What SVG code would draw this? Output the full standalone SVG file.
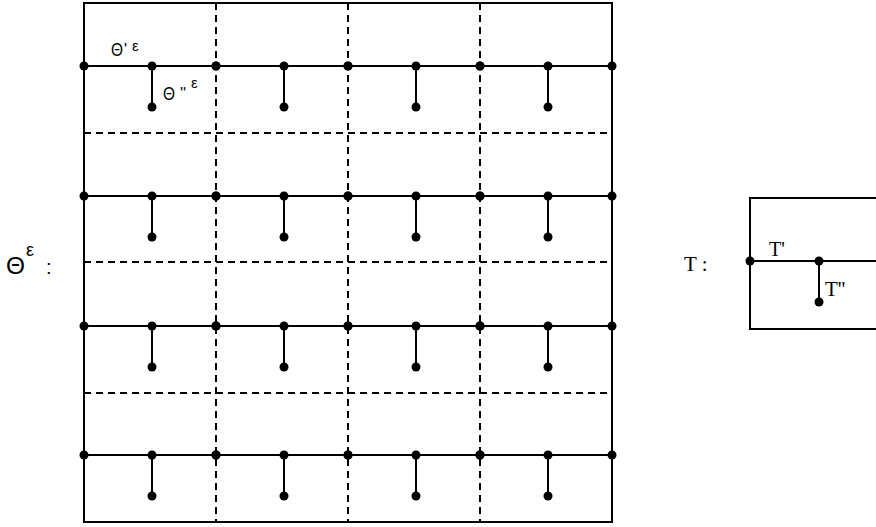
<svg xmlns="http://www.w3.org/2000/svg" xmlns:xlink="http://www.w3.org/1999/xlink" width="876" height="527" viewBox="0 0 876 527">
<style>
.solid{stroke:#000;stroke-width:2;fill:none}
.dash{stroke:#000;stroke-width:2;fill:none;stroke-dasharray:7 5}
.dot{fill:#000}
.sans{font-family:"Liberation Sans",Arial,sans-serif;fill:#000}
.serif{font-family:"Liberation Serif","Times New Roman",serif;fill:#000}
</style>
<defs>
<g id="cell">
<line class="solid" x1="0" y1="0" x2="132" y2="0"/>
<line class="solid" x1="68" y1="0" x2="68" y2="41"/>
<circle class="dot" cx="0" cy="0" r="4.5"/>
<circle class="dot" cx="68" cy="0" r="4.5"/>
<circle class="dot" cx="68" cy="41" r="4.5"/>
<circle class="dot" cx="132" cy="0" r="4.5"/>
</g>
</defs>
<rect width="876" height="527" fill="#fff"/>
<g id="frame">
<rect class="solid" x="84" y="3" width="528" height="519"/>
</g>
<g id="connectors">
<line class="dash" x1="216" y1="3" x2="216" y2="522"/>
<line class="dash" x1="348" y1="3" x2="348" y2="522"/>
<line class="dash" x1="480" y1="3" x2="480" y2="522"/>
<line class="dash" x1="84" y1="133" x2="612" y2="133"/>
<line class="dash" x1="84" y1="262" x2="612" y2="262"/>
<line class="dash" x1="84" y1="393" x2="612" y2="393"/>
</g>
<g id="row1">
<use xlink:href="#cell" x="84" y="66"/><use xlink:href="#cell" x="216" y="66"/><use xlink:href="#cell" x="348" y="66"/><use xlink:href="#cell" x="480" y="66"/>
</g>
<g id="row2">
<use xlink:href="#cell" x="84" y="196"/><use xlink:href="#cell" x="216" y="196"/><use xlink:href="#cell" x="348" y="196"/><use xlink:href="#cell" x="480" y="196"/>
</g>
<g id="row3">
<use xlink:href="#cell" x="84" y="326"/><use xlink:href="#cell" x="216" y="326"/><use xlink:href="#cell" x="348" y="326"/><use xlink:href="#cell" x="480" y="326"/>
</g>
<g id="row4">
<use xlink:href="#cell" x="84" y="455"/><use xlink:href="#cell" x="216" y="455"/><use xlink:href="#cell" x="348" y="455"/><use xlink:href="#cell" x="480" y="455"/>
</g>
<g id="labels-theta">
<text class="sans" x="111" y="56" font-size="18" textLength="12" lengthAdjust="spacingAndGlyphs">Θ</text>
<text class="sans" x="124" y="55" font-size="16">'</text>
<text class="sans" x="132" y="51" font-size="15">ε</text>
<text class="sans" x="163" y="100" font-size="18" textLength="12" lengthAdjust="spacingAndGlyphs">Θ</text>
<text class="sans" x="180" y="99" font-size="16">''</text>
<text class="sans" x="191" y="88" font-size="15">ε</text>
<text class="sans" x="6" y="274" font-size="24" textLength="19" lengthAdjust="spacingAndGlyphs">Θ</text>
<text class="sans" x="26" y="256" font-size="18">ε</text>
<text class="sans" x="46" y="274" font-size="20">:</text>
</g>
<g id="T">
<rect class="solid" x="750" y="198" width="140" height="131"/>
<line class="solid" x1="750" y1="261" x2="876" y2="261"/>
<line class="solid" x1="819" y1="261" x2="819" y2="302"/>
<circle class="dot" cx="750" cy="261" r="4.5"/>
<circle class="dot" cx="819" cy="261" r="4.5"/>
<circle class="dot" cx="819" cy="302" r="4.5"/>
<text class="serif" x="684" y="271" font-size="21">T :</text>
<text class="serif" x="769" y="256" font-size="20">T'</text>
<text class="serif" x="825" y="296" font-size="21">T''</text>
</g>
</svg>
